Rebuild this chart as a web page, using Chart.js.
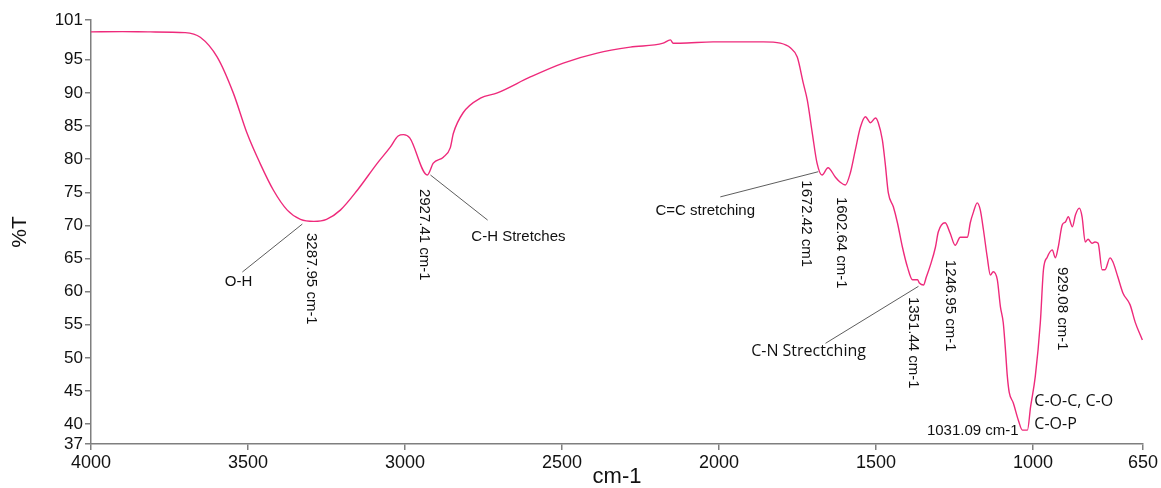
<!DOCTYPE html>
<html>
<head>
<meta charset="utf-8">
<script src="https://cdn.jsdelivr.net/npm/chart.js@4"></script>
<style>
  html, body { margin: 0; padding: 0; background: #fff; }
  #wrap { width: 1161px; height: 488px; }
</style>
</head>
<body>
<div id="wrap"><canvas id="myChart" width="1161" height="488"></canvas></div>
<script>
// spectrum values (cm-1 , %T)
const wavenumbers = [4000, 3900, 3811, 3700, 3652, 3598, 3547, 3503, 3462, 3419, 3375, 3333, 3290, 3250,
  3206, 3152, 3088, 3047, 3022, 3005, 2985, 2929, 2910, 2878, 2856, 2846, 2815, 2760, 2706, 2601,
  2496, 2388, 2283, 2178, 2155, 2146, 2124, 2019, 1859, 1805, 1773, 1751, 1732, 1719, 1703, 1688,
  1672, 1653, 1630, 1614, 1598, 1582, 1566, 1550, 1534, 1518, 1502, 1493, 1480, 1471, 1461, 1445,
  1432, 1416, 1400, 1384, 1368, 1362, 1349, 1340, 1327, 1311, 1302, 1280, 1264, 1248, 1232, 1209,
  1200, 1190, 1178, 1168, 1158, 1146, 1136, 1127, 1114, 1104, 1095, 1088, 1082, 1076, 1063, 1047,
  1034, 1018, 1008, 993, 977, 967, 955, 939, 929, 920, 907, 897, 888, 875, 865, 853, 844, 834, 825,
  812, 803, 793, 780, 771, 755, 746, 730, 714, 691, 675, 652];
const transmittance = [99.2, 99.25, 99.2, 99.1, 98.4, 95.4, 90.0, 83.9, 79.4, 75.3, 72.3, 70.9, 70.6, 70.9,
  72.3, 75.3, 79.4, 81.8, 83.5, 83.7, 83.2, 77.6, 79.4, 80.3, 81.7, 83.9, 87.0, 89.2, 90.0, 92.4,
  94.5, 96.0, 96.9, 97.5, 98.0, 97.5, 97.5, 97.7, 97.7, 97.5, 96.8, 95.4, 91.5, 88.9, 83.9, 79.4,
  77.6, 78.7, 77.3, 76.5, 76.1, 77.9, 81.4, 84.8, 86.4, 85.5, 86.2, 85.5, 82.9, 79.4, 74.9, 72.8,
  70.4, 66.7, 63.7, 61.8, 61.8, 61.3, 61.0, 62.2, 64.0, 66.7, 69.0, 70.4, 68.8, 67.0, 68.2, 68.2,
  70.4, 72.0, 73.4, 72.3, 69.3, 65.2, 62.5, 63.0, 61.8, 57.7, 55.3, 51.2, 47.2, 44.8, 43.2, 40.6,
  39.1, 39.1, 42.6, 47.2, 55.3, 63.3, 65.2, 66.3, 65.1, 66.7, 70.1, 70.5, 71.3, 69.8, 71.6, 72.6, 71.3, 67.5, 67.9,
  67.3, 67.5, 67.3, 63.3, 63.3, 65.1, 64.5, 62.2, 59.8, 58.0, 55.4, 52.7];

const xTicks = [4000, 3500, 3000, 2500, 2000, 1500, 1000, 650];
const yTicks = [101, 95, 90, 85, 80, 75, 70, 65, 60, 55, 50, 45, 40, 37];

// peak labels, placed in data coordinates
const rotatedLabels = [
  { text: '3287.95 cm-1', x: 3298, y: 68.85 },
  { text: '2927.41 cm-1', x: 2938, y: 75.5 },
  { text: '1672.42 cm1', x: 1722, y: 76.8 },
  { text: '1602.64 cm-1', x: 1611, y: 74.3 },
  { text: '1351.44 cm-1', x: 1381, y: 59.2 },
  { text: '1246.95 cm-1', x: 1263, y: 64.8 },
  { text: '929.08 cm-1', x: 906, y: 63.7 }
];
const groupLabels = [
  { text: 'O-H', x: 3530, y: 61.45, align: 'center', font: '15px "Liberation Sans", Arial' },
  { text: 'C-H Stretches', x: 2639, y: 68.2, align: 'center', font: '15px "Liberation Sans", Arial' },
  { text: 'C=C stretching', x: 2044, y: 72.2, align: 'center', font: '15px "Liberation Sans", Arial' },
  { text: 'C-N Strectching', x: 1715, y: 50.9, align: 'center', font: '16px "Open Sans", "Noto Sans"' },
  { text: 'C-O-C, C-O', x: 996, y: 43.5, align: 'left', font: '16px "Open Sans", "Noto Sans"' },
  { text: 'C-O-P', x: 996, y: 40.0, align: 'left', font: '16px "Open Sans", "Noto Sans"' },
  { text: '1031.09 cm-1', x: 1046, y: 38.96, align: 'right', font: '15px "Liberation Sans", Arial' }
];
const leaders = [
  [3518, 62.96, 3327, 70.2],
  [2919, 77.6, 2737, 70.8],
  [1996, 74.3, 1684, 78.1],
  [1661, 52.2, 1365, 60.8]
];

const labelPlugin = {
  id: 'peakLabels',
  afterDatasetsDraw(chart) {
    const ctx = chart.ctx;
    const xs = chart.scales.x, ys = chart.scales.y;
    ctx.save();
    ctx.strokeStyle = '#333';
    ctx.lineWidth = 0.8;
    leaders.forEach(l => {
      ctx.beginPath();
      ctx.moveTo(xs.getPixelForValue(l[0]), ys.getPixelForValue(l[1]));
      ctx.lineTo(xs.getPixelForValue(l[2]), ys.getPixelForValue(l[3]));
      ctx.stroke();
    });
    ctx.fillStyle = '#111';
    ctx.textBaseline = 'middle';
    groupLabels.forEach(g => {
      ctx.font = g.font;
      ctx.textAlign = g.align;
      ctx.fillText(g.text, xs.getPixelForValue(g.x), ys.getPixelForValue(g.y));
    });
    ctx.font = '15px "Liberation Sans", Arial';
    ctx.textAlign = 'left';
    rotatedLabels.forEach(r => {
      ctx.save();
      ctx.translate(xs.getPixelForValue(r.x), ys.getPixelForValue(r.y));
      ctx.rotate(Math.PI / 2);
      ctx.fillText(r.text, 0, 0);
      ctx.restore();
    });
    ctx.restore();
  }
};

const ctx = document.getElementById('myChart').getContext('2d');
new Chart(ctx, {
  type: 'line',
  data: {
    datasets: [{
      data: wavenumbers.map((w, i) => ({ x: w, y: transmittance[i] })),
      borderColor: '#ee2a7b',
      borderWidth: 1.4,
      pointRadius: 0,
      cubicInterpolationMode: 'monotone',
      fill: false
    }]
  },
  options: {
    responsive: false,
    animation: false,
    layout: { padding: { top: 20, right: 18, left: 0, bottom: 0 } },
    plugins: { legend: { display: false }, tooltip: { enabled: false } },
    scales: {
      x: {
        type: 'linear',
        reverse: true,
        min: 650,
        max: 4000,
        afterBuildTicks: s => { s.ticks = xTicks.map(v => ({ value: v })); },
        afterFit: s => { s.height = 44; },
        grid: { drawOnChartArea: false, tickLength: 6, color: '#7f7f7f', lineWidth: 1.5 },
        border: { color: '#7f7f7f', width: 1.5 },
        ticks: { padding: 2, color: '#111', font: { family: '"Liberation Sans", Arial', size: 18 }, maxRotation: 0,
          callback: v => String(v) },
        title: { display: true, text: 'cm-1', color: '#111', font: { family: '"Liberation Sans", Arial', size: 22, lineHeight: 1 }, padding: 0 }
      },
      y: {
        min: 37,
        max: 101,
        afterBuildTicks: s => { s.ticks = yTicks.map(v => ({ value: v })); },
        afterFit: s => { s.width = 91; },
        grid: { drawOnChartArea: false, tickLength: 6, color: '#7f7f7f', lineWidth: 1.5 },
        border: { color: '#7f7f7f', width: 1.5 },
        ticks: { padding: 2, color: '#111', font: { family: '"Liberation Sans", Arial', size: 17 } },
        title: { display: true, text: '%T', color: '#111', font: { family: '"Liberation Sans", Arial', size: 21, lineHeight: 1 }, padding: { top: 9.5, bottom: 0 } }
      }
    }
  },
  plugins: [labelPlugin]
});
</script>
</body>
</html>
